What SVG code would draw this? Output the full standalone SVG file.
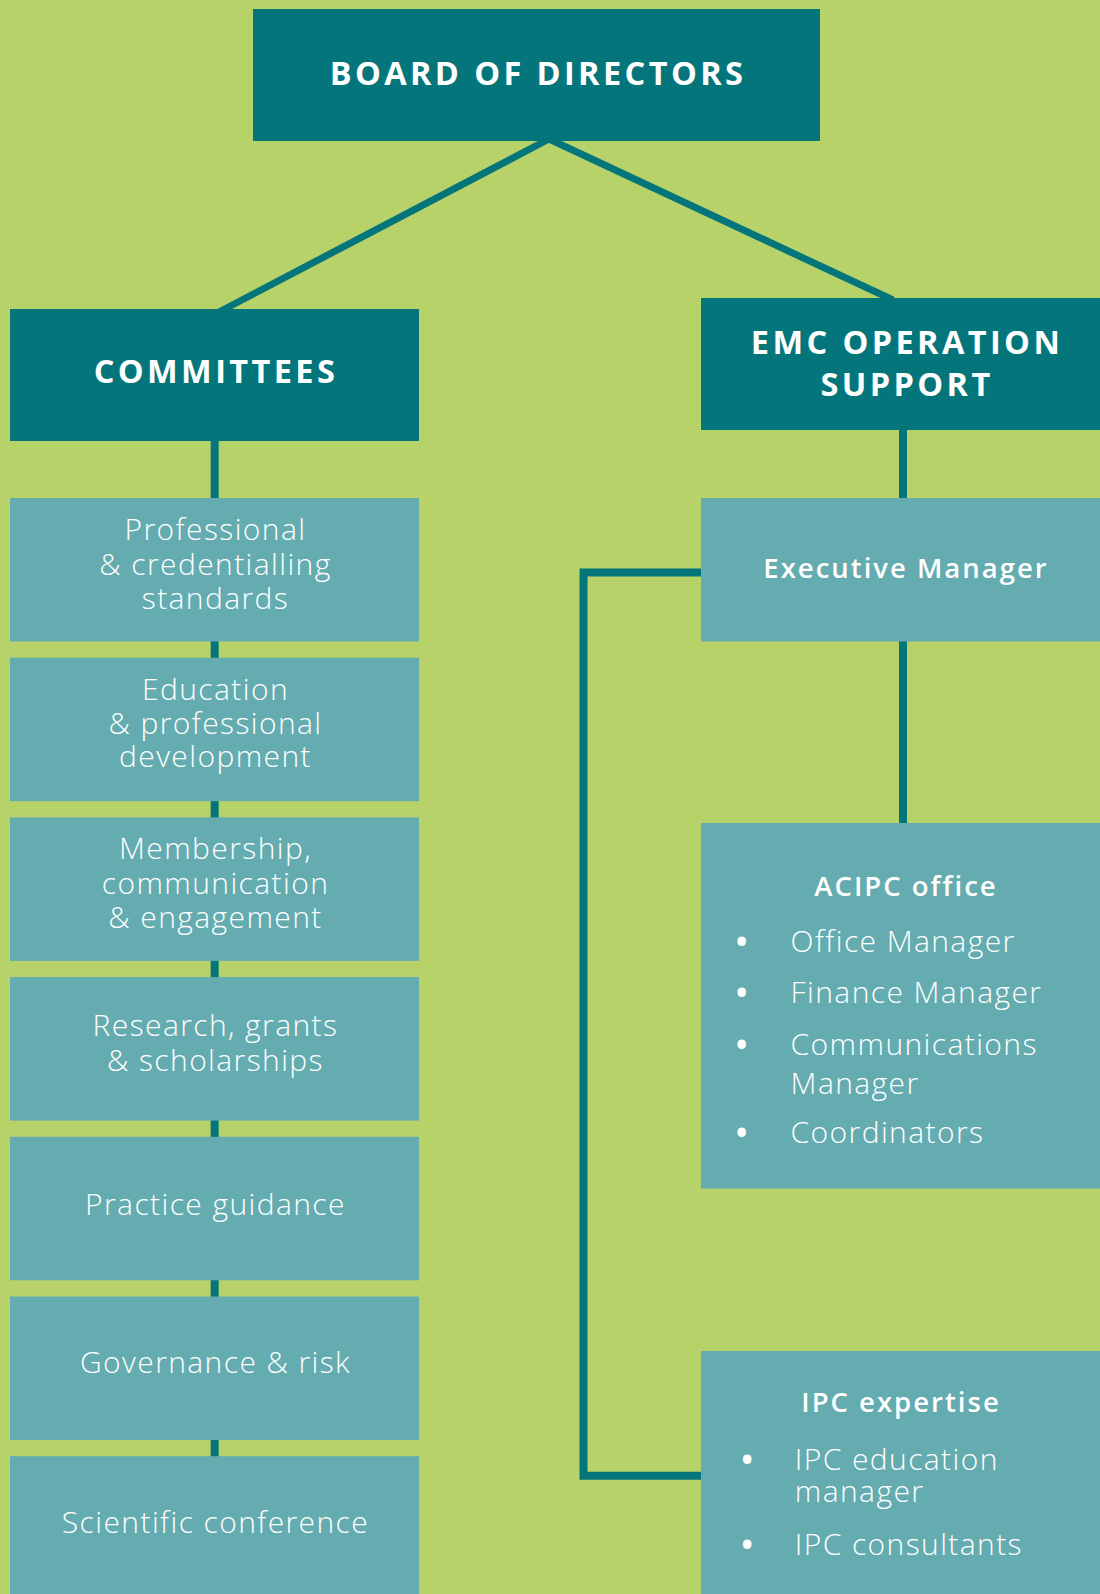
<svg xmlns="http://www.w3.org/2000/svg" width="1100" height="1594" viewBox="0 0 1100 1594">
<style>
.bg{fill:#b8d26a}
.dark{fill:#04767b}
.light{fill:#64acaf}
.ln{stroke:#04767b;fill:none}
.h{font-family:"Open Sans","Liberation Sans",sans-serif;font-weight:700;font-size:32.5px;fill:#fff;letter-spacing:3.4px;text-anchor:middle}
.t{font-family:"Open Sans","Liberation Sans",sans-serif;font-weight:300;font-size:30px;fill:#fff;text-anchor:middle;letter-spacing:1.4px}
.s{font-family:"Open Sans","Liberation Sans",sans-serif;font-weight:600;font-size:27.5px;fill:#fff;text-anchor:middle;letter-spacing:2px}
.b{font-family:"Open Sans","Liberation Sans",sans-serif;font-weight:300;font-size:30px;fill:#fff;letter-spacing:1.4px}
.d{font-family:"Open Sans","Liberation Sans",sans-serif;font-weight:700;font-size:30px;fill:#fff}
</style>
<rect class="bg" x="0" y="0" width="1100" height="1594"/>
<g id="connectors">
<line class="ln" stroke-width="7" x1="549" y1="139" x2="219" y2="312"/>
<line class="ln" stroke-width="7" x1="549" y1="139" x2="893" y2="300"/>
<line class="ln" stroke-width="8" x1="214.7" y1="440" x2="214.7" y2="1460"/>
<line class="ln" stroke-width="8" x1="903" y1="428" x2="903" y2="825"/>
<polyline class="ln" stroke-width="8" points="703,572.5 583.5,572.5 583.5,1475.7 703,1475.7"/>
</g>
<g id="board">
<rect class="dark" x="253" y="9" width="567" height="132"/>
<text class="h" x="538" y="85">BOARD OF DIRECTORS</text>
</g>
<g id="committees">
<rect class="dark" x="10" y="309" width="409" height="132"/>
<text class="h" x="216" y="382.5">COMMITTEES</text>
</g>
<g id="emc">
<rect class="dark" x="701" y="298" width="399" height="132"/>
<text class="h" x="907" y="353.5">EMC OPERATION</text>
<text class="h" x="907" y="396">SUPPORT</text>
</g>
<g id="professional">
<rect class="light" x="10" y="498" width="409" height="143.5"/>
<text class="t" x="215.5" y="540">Professional</text>
<text class="t" x="215.5" y="575">&amp; credentialling</text>
<text class="t" x="215.5" y="608.5">standards</text>
</g>
<g id="education">
<rect class="light" x="10" y="657.7" width="409" height="143.5"/>
<text class="t" x="215.5" y="699.5">Education</text>
<text class="t" x="215.5" y="733.5">&amp; professional</text>
<text class="t" x="215.5" y="767">development</text>
</g>
<g id="membership">
<rect class="light" x="10" y="817.4" width="409" height="143.5"/>
<text class="t" x="215.5" y="859">Membership,</text>
<text class="t" x="215.5" y="893.5">communication</text>
<text class="t" x="215.5" y="928">&amp; engagement</text>
</g>
<g id="research">
<rect class="light" x="10" y="977.1" width="409" height="143.5"/>
<text class="t" x="215.5" y="1036">Research, grants</text>
<text class="t" x="215.5" y="1071">&amp; scholarships</text>
</g>
<g id="practice">
<rect class="light" x="10" y="1136.8" width="409" height="143.5"/>
<text class="t" x="215.5" y="1215">Practice guidance</text>
</g>
<g id="governance">
<rect class="light" x="10" y="1296.5" width="409" height="143.5"/>
<text class="t" x="215.5" y="1373">Governance &amp; risk</text>
</g>
<g id="scientific">
<rect class="light" x="10" y="1456.2" width="409" height="140"/>
<text class="t" x="215.5" y="1533">Scientific conference</text>
</g>
<g id="executive">
<rect class="light" x="701" y="498" width="399" height="143.5"/>
<text class="s" x="906" y="577.5">Executive Manager</text>
</g>
<g id="acipc">
<rect class="light" x="701" y="823" width="399" height="365.6"/>
<text class="s" x="906" y="895.7">ACIPC office</text>
<text class="d" x="736" y="951.7">•</text><text class="b" x="790.6" y="951.7">Office Manager</text>
<text class="d" x="736" y="1003.4">•</text><text class="b" x="790.6" y="1003.4">Finance Manager</text>
<text class="d" x="736" y="1054.7">•</text><text class="b" x="790.6" y="1054.7">Communications</text>
<text class="b" x="790.6" y="1093.7">Manager</text>
<text class="d" x="736" y="1143">•</text><text class="b" x="790.6" y="1143">Coordinators</text>
</g>
<g id="ipc">
<rect class="light" x="701" y="1351" width="399" height="245"/>
<text class="s" x="901" y="1412">IPC expertise</text>
<text class="d" x="741.5" y="1469.5">•</text><text class="b" x="794.8" y="1469.5">IPC education</text>
<text class="b" x="794.8" y="1502">manager</text>
<text class="d" x="741.5" y="1554.5">•</text><text class="b" x="794.8" y="1554.5">IPC consultants</text>
</g>
</svg>
